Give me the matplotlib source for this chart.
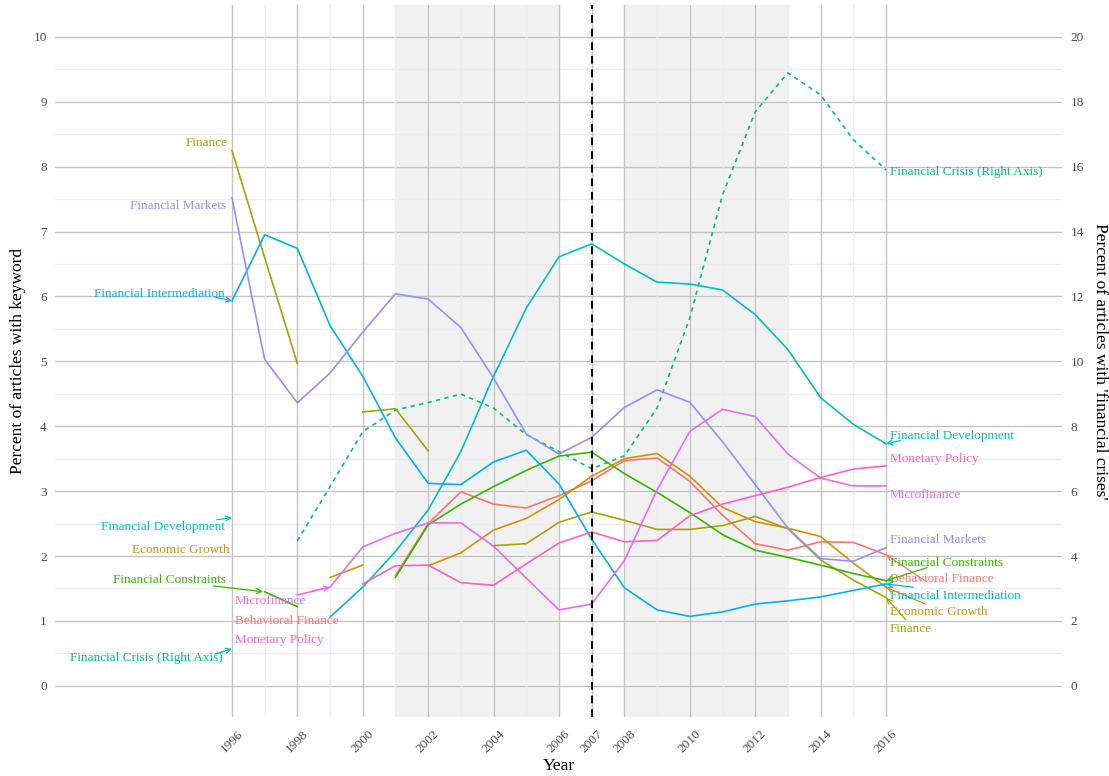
import numpy as np
import matplotlib.pyplot as plt

plt.rcParams["font.family"] = ["Liberation Serif", "DejaVu Serif"]

nan = np.nan
years = np.arange(1996, 2017)

# percent of articles with keyword (left axis)
behavioral_finance = [nan, nan, nan, nan, nan, 1.70, 2.50, 2.99, 2.80, 2.74, 2.93,
                      3.16, 3.47, 3.51, 3.15, 2.63, 2.19, 2.09, 2.22, 2.21, 2.02]
economic_growth = [nan, nan, nan, 1.67, 1.86, nan, 1.85, 2.05, 2.40, 2.58, 2.87,
                   3.23, 3.50, 3.58, 3.23, 2.75, 2.53, 2.43, 2.30, 1.89, 1.52]
finance = [8.25, 6.60, 4.97, nan, 4.22, 4.27, 3.62, nan, 2.16, 2.19, 2.52,
           2.68, 2.55, 2.41, 2.41, 2.47, 2.61, 2.42, 1.94, 1.63, 1.36]
financial_constraints = [nan, 1.45, 1.22, nan, nan, 1.67, 2.48, 2.80, 3.07, 3.32, 3.54,
                         3.60, 3.27, 2.98, 2.67, 2.33, 2.09, 1.98, 1.86, 1.73, 1.62]
financial_development = [nan, nan, nan, 1.06, 1.52, 2.07, 2.71, 3.61, 4.77, 5.82, 6.61,
                         6.81, 6.50, 6.22, 6.19, 6.10, 5.72, 5.18, 4.44, 4.03, 3.73]
financial_intermediation = [5.93, 6.95, 6.74, 5.55, 4.77, 3.82, 3.12, 3.10, 3.45, 3.63, 3.11,
                            2.26, 1.51, 1.17, 1.07, 1.14, 1.26, 1.31, 1.37, 1.47, 1.57]
financial_markets = [7.52, 5.03, 4.36, 4.82, 5.45, 6.04, 5.96, 5.52, 4.74, 3.88, 3.57,
                     3.83, 4.29, 4.56, 4.37, 3.76, 3.10, 2.43, 1.96, 1.92, 2.13]
microfinance = [nan, nan, 1.40, 1.52, 2.14, 2.35, 2.51, 2.51, 2.15, 1.66, 1.17,
                1.26, 1.93, 3.02, 3.92, 4.26, 4.15, 3.57, 3.20, 3.08, 3.08]
monetary_policy = [nan, nan, nan, nan, 1.57, 1.85, 1.86, 1.59, 1.55, 1.88, 2.20,
                   2.37, 2.22, 2.24, 2.62, 2.80, 2.93, 3.06, 3.21, 3.34, 3.39]
# percent of articles with 'financial crises' (right axis)
financial_crisis = [nan, nan, 4.47, 6.14, 7.83, 8.50, 8.73, 8.99, 8.56, 7.74, 7.22,
                    6.69, 7.09, 8.56, 11.34, 15.13, 17.69, 18.89, 18.21, 16.83, 15.90]

names = ["Behavioral Finance", "Economic Growth", "Finance", "Financial Constraints",
         "Financial Crisis (Right Axis)", "Financial Development",
         "Financial Intermediation", "Financial Markets", "Microfinance", "Monetary Policy"]
colors = ["#F8766D", "#D89000", "#A3A500", "#39B600", "#00BF7D",
          "#00BFC4", "#00B0F6", "#9590FF", "#E76BF3", "#FF62BC"]
series = [behavioral_finance, economic_growth, finance, financial_constraints,
          list(np.array(financial_crisis) / 2), financial_development,
          financial_intermediation, financial_markets, microfinance, monetary_policy]

# repelled label positions: (x, y, ha, segment from -> to)
left_labels = {
    "Finance": (1995.88, 8.37, "right", None),
    "Financial Markets": (1995.82, 7.40, "right", None),
    "Financial Intermediation": (1995.79, 6.04, "right", ((1995.48, 5.99), (1996, 5.93))),
    "Financial Development": (1995.79, 2.45, "right", ((1995.54, 2.56), (1996, 2.59))),
    "Economic Growth": (1995.94, 2.10, "right", None),
    "Financial Constraints": (1995.82, 1.63, "right", ((1995.42, 1.54), (1996.95, 1.45))),
    "Microfinance": (1996.09, 1.31, "left", ((1998.45, 1.46), (1999, 1.52))),
    "Behavioral Finance": (1996.09, 1.00, "left", None),
    "Monetary Policy": (1996.09, 0.71, "left", None),
    "Financial Crisis (Right Axis)": (1995.73, 0.43, "right", ((1995.48, 0.49), (1996, 0.57))),
}
right_labels = {
    "Financial Crisis (Right Axis)": (7.92, None),
    "Financial Development": (3.85, (2016.45, 3.78)),
    "Monetary Policy": (3.50, None),
    "Microfinance": (2.94, None),
    "Financial Markets": (2.25, None),
    "Financial Constraints": (1.90, (2017.25, 1.82)),
    "Behavioral Finance": (1.65, (2017.25, 1.60)),
    "Financial Intermediation": (1.39, (2016.83, 1.52)),
    "Economic Growth": (1.14, (2017.2, 1.26)),
    "Finance": (0.88, (2016.6, 1.02)),
}

shade_periods = [(2001, 2006), (2008, 2013)]
crisis_year = 2007
x_breaks = [1996, 1998, 2000, 2002, 2004, 2006, 2007, 2008, 2010, 2012, 2014, 2016]

fig = plt.figure(figsize=(11.09, 7.76), dpi=100)
ax = fig.add_axes([55 / 1109, 1 - 717 / 776, (1062 - 55) / 1109, (717 - 5) / 776])
ax.set_xlim(1990.59, 2021.38)
ax.set_ylim(-0.48, 10.49)

for s in ax.spines.values():
    s.set_visible(False)

# grid
for y in np.arange(-0.5, 10.6, 0.5):
    major = float(y).is_integer()
    ax.axhline(y, color="#c4c4c4" if major else "#ececec", lw=1.0, zorder=1)
for x in range(1996, 2017):
    major = x in x_breaks
    ax.axvline(x, color="#c4c4c4" if major else "#ececec", lw=1.0, zorder=1)

for a, b in shade_periods:
    ax.axvspan(a, b, color="#c8c8c8", alpha=0.25, lw=0, zorder=0.5)

ax.axvline(crisis_year, color="black", lw=1.4, ls=(0, (4, 3)), zorder=4)

for name, vals, c in zip(names, series, colors):
    ls = (0, (2.6, 2.6)) if "Crisis" in name else "-"
    ax.plot(years, vals, color=c, lw=1.2, ls=ls, zorder=3)

lab_fs = 9.5
for name, c in zip(names, colors):
    x, y, ha, seg = left_labels[name]
    ax.text(x, y, name, color=c, ha=ha, va="center", fontsize=lab_fs, zorder=5)
    if seg is not None:
        ax.annotate("", xy=seg[1], xytext=seg[0],
                    arrowprops=dict(arrowstyle="->", color=c, lw=0.9,
                                    shrinkA=0, shrinkB=0, mutation_scale=9), zorder=5)
    y, seg = right_labels[name]
    ax.text(2016.12, y, name, color=c, ha="left", va="center", fontsize=lab_fs, zorder=5)
    if seg is not None:
        idx = names.index(name)
        ax.annotate("", xy=(2016, series[idx][-1]), xytext=seg,
                    arrowprops=dict(arrowstyle="->", color=c, lw=0.9,
                                    shrinkA=0, shrinkB=0, mutation_scale=9), zorder=5)

ax.set_xticks(x_breaks)
ax.set_xticklabels([str(x) for x in x_breaks], rotation=45, ha="center", va="top")
ax.set_yticks(range(0, 11))
ax.tick_params(axis="both", length=0, labelsize=9.5, labelcolor="#4d4d4d")
ax.tick_params(axis="x", pad=8)
ax.tick_params(axis="y", pad=6)

ax.set_xlabel("Year", fontsize=12.5)
ax.xaxis.set_label_coords(0.5, -49 / 712)
ax.xaxis.label.set_verticalalignment("center")
ax.set_ylabel("Percent of articles with keyword", fontsize=12.5)
ax.yaxis.set_label_coords(-37 / 1007, 0.5)
ax.yaxis.label.set_verticalalignment("center")

sec = ax.secondary_yaxis("right", functions=(lambda v: v * 2, lambda v: v / 2))
sec.set_yticks(range(0, 21, 2))
sec.tick_params(length=0, labelsize=9.5, labelcolor="#4d4d4d", pad=6)
for s in sec.spines.values():
    s.set_visible(False)
fig.text(1100 / 1109, 1 - 361 / 776, "Percent of articles with 'financial crises'",
         fontsize=12.5, rotation=-90, ha="center", va="center")

fig.savefig("out.png", dpi=100)
